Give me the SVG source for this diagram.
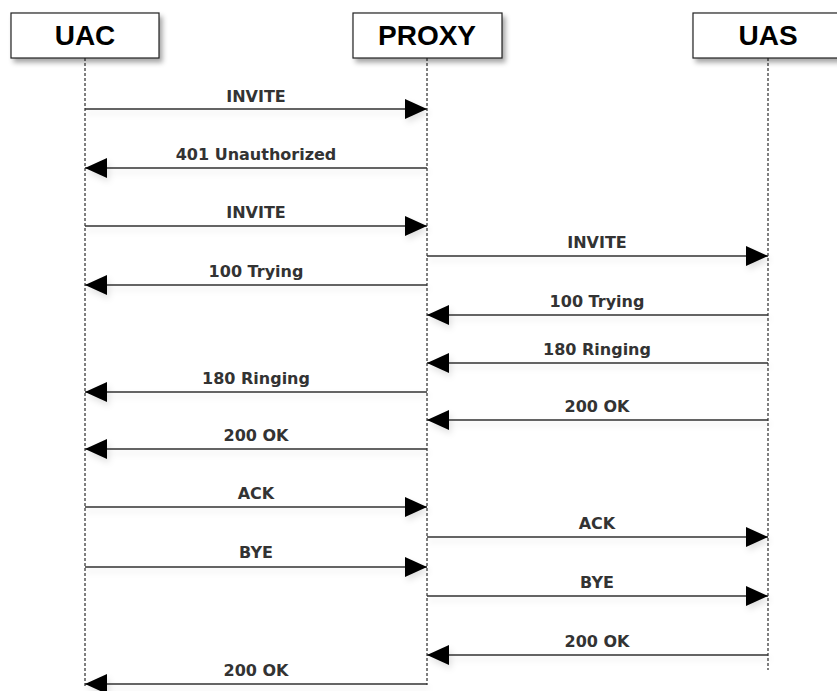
<svg xmlns="http://www.w3.org/2000/svg" width="837" height="691" viewBox="0 0 837 691">
<defs>
<filter id="sh" x="-10%" y="-30%" width="130%" height="180%">
<feDropShadow dx="3" dy="4" stdDeviation="2.5" flood-color="#000" flood-opacity="0.35"/>
</filter>
<filter id="lsh" x="-5%" y="-200%" width="110%" height="500%">
<feDropShadow dx="2" dy="4" stdDeviation="3" flood-color="#000" flood-opacity="0.12"/>
</filter>
<marker id="ah" viewBox="0 0 22 20" refX="22" refY="10" markerWidth="22" markerHeight="20" markerUnits="userSpaceOnUse" orient="auto">
<path d="M0,0 L22,10 L0,20 Z" fill="#000"/>
</marker>
<style>
.box{fill:#fff;stroke:#222;stroke-width:1.2}
.title{font-family:"Liberation Sans",Arial,sans-serif;font-weight:bold;font-size:28px;fill:#000;text-anchor:middle}
.life{stroke:#000;stroke-width:1;stroke-dasharray:3,2;fill:none}
.msg{stroke:#333;stroke-width:1.6;fill:none;marker-end:url(#ah)}
.lbl{font-family:"DejaVu Sans",Verdana,sans-serif;font-weight:bold;font-size:16px;fill:#333;text-anchor:middle}
</style>
</defs>
<rect width="837" height="691" fill="#fff"/>
<g id="lifelines">
<line class="life" x1="85" y1="58" x2="85" y2="688"/>
<line class="life" x1="427" y1="58" x2="427" y2="685"/>
<line class="life" x1="768" y1="58" x2="768" y2="670"/>
</g>
<g id="uac">
<rect class="box" x="11" y="13" width="148" height="45" filter="url(#sh)"/>
<text class="title" x="85" y="45">UAC</text>
</g>
<g id="proxy">
<rect class="box" x="353" y="13" width="149" height="45" filter="url(#sh)"/>
<text class="title" x="427" y="45">PROXY</text>
</g>
<g id="uas">
<rect class="box" x="693" y="13" width="150" height="45" filter="url(#sh)"/>
<text class="title" x="768" y="45">UAS</text>
</g>
<g id="connectors" filter="url(#lsh)">
<line class="msg" x1="85" y1="109" x2="427" y2="109"/>
<line class="msg" x1="427" y1="168" x2="85" y2="168"/>
<line class="msg" x1="85" y1="226" x2="427" y2="226"/>
<line class="msg" x1="427" y1="256" x2="768" y2="256"/>
<line class="msg" x1="427" y1="285" x2="85" y2="285"/>
<line class="msg" x1="768" y1="315" x2="427" y2="315"/>
<line class="msg" x1="768" y1="363" x2="427" y2="363"/>
<line class="msg" x1="427" y1="392" x2="85" y2="392"/>
<line class="msg" x1="768" y1="420" x2="427" y2="420"/>
<line class="msg" x1="427" y1="449" x2="85" y2="449"/>
<line class="msg" x1="85" y1="507" x2="427" y2="507"/>
<line class="msg" x1="427" y1="537" x2="768" y2="537"/>
<line class="msg" x1="85" y1="567" x2="427" y2="567"/>
<line class="msg" x1="427" y1="596" x2="768" y2="596"/>
<line class="msg" x1="768" y1="655" x2="427" y2="655"/>
<line class="msg" x1="427" y1="684" x2="85" y2="684"/>
</g>
<g id="labels">
<text class="lbl" x="256" y="102">INVITE</text>
<text class="lbl" x="256" y="160">401 Unauthorized</text>
<text class="lbl" x="256" y="218">INVITE</text>
<text class="lbl" x="597" y="248">INVITE</text>
<text class="lbl" x="256" y="277">100 Trying</text>
<text class="lbl" x="597" y="307">100 Trying</text>
<text class="lbl" x="597" y="355">180 Ringing</text>
<text class="lbl" x="256" y="384">180 Ringing</text>
<text class="lbl" x="597" y="412">200 OK</text>
<text class="lbl" x="256" y="441">200 OK</text>
<text class="lbl" x="256" y="499">ACK</text>
<text class="lbl" x="597" y="529">ACK</text>
<text class="lbl" x="256" y="558">BYE</text>
<text class="lbl" x="597" y="588">BYE</text>
<text class="lbl" x="597" y="647">200 OK</text>
<text class="lbl" x="256" y="676">200 OK</text>
</g>
</svg>
